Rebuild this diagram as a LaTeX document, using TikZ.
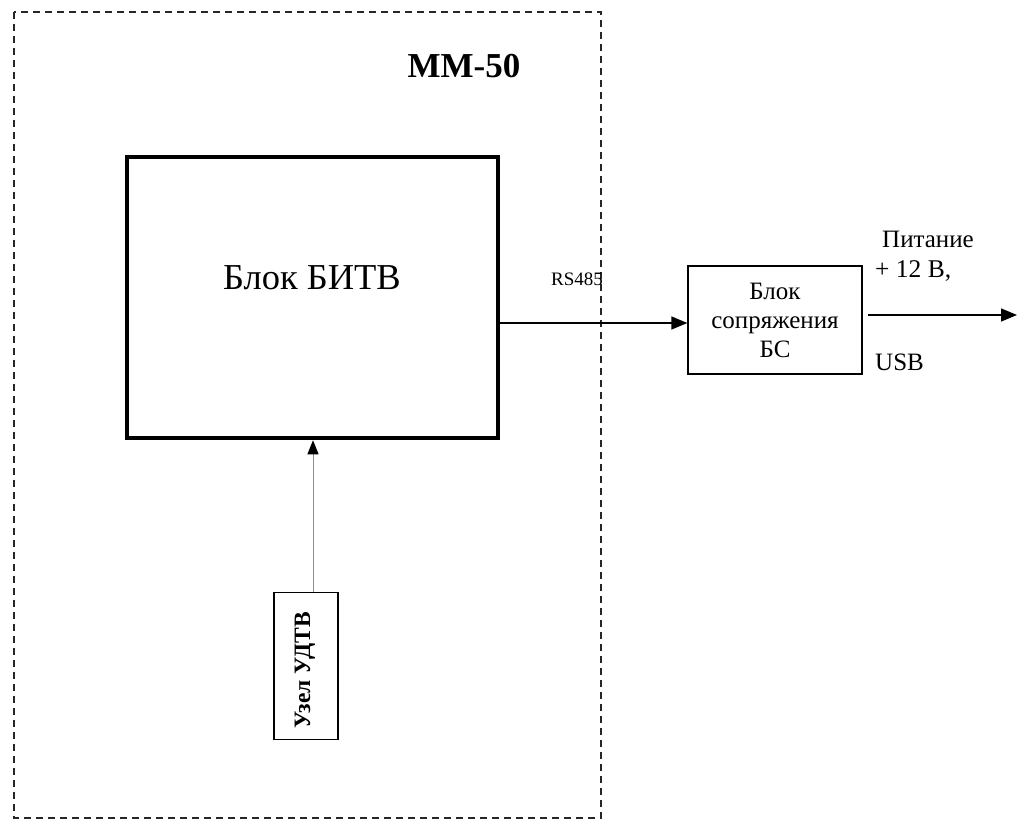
\documentclass[tikz,border=0pt]{standalone}
\usepackage{fontspec}
\setmainfont{Liberation Serif}
\usetikzlibrary{arrows.meta,calc}
\tikzset{
  frame/.style={draw=black!85, line width=1.6pt, dash pattern=on 7pt off 5pt},
  bigbox/.style={draw, line width=4.5pt, minimum width=371pt, minimum height=281pt, inner sep=0pt},
  smallbox/.style={draw, line width=1.3pt, minimum width=174pt, minimum height=108pt, inner sep=0pt, align=center, font=\fontsize{25}{29}\selectfont},
  uzelbox/.style={draw, line width=1.8pt, minimum width=64pt, minimum height=147pt, inner sep=0pt},
  conn/.style={line width=1.3pt, -{Triangle[length=16pt,width=13pt]}},
  thinconn/.style={draw=black!45, line width=1pt, -{Triangle[length=14pt,width=11pt,fill=black,color=black]}},
  lbl/.style={inner sep=0pt}
}
\begin{document}
\begin{tikzpicture}[x=1pt,y=-1pt]
\useasboundingbox (0,0) rectangle (1026,821);
\draw[frame] (14,12) rectangle (601,818);
\node[lbl, font=\fontsize{35}{40}\selectfont\bfseries] (mm) at (464,66) {ММ-50};
\node[bigbox] (bitv) at (312.5,297.5) {};
\node[lbl, font=\fontsize{36.5}{42}\selectfont] (bitvt) at (312,278) {Блок БИТВ};
\node[smallbox] (bs) at (775,320) {Блок\\сопряжения\\БС};
\node[uzelbox] (uzel) at (306,666) {};
\node[lbl, rotate=90, font=\fontsize{23.5}{28}\selectfont\bfseries] (uzelt) at ([xshift=-1pt,yshift=-4pt]uzel.center) {Узел УДТВ};
\node[lbl, anchor=base west, font=\fontsize{19}{22}\selectfont] (rs) at (551,286) {RS485};
\node[lbl, anchor=base west, font=\fontsize{25}{29}\selectfont] (pit) at (882,248) {Питание};
\node[lbl, anchor=base west, font=\fontsize{25.5}{29}\selectfont] (v12) at (875,278) {+ 12 В,};
\node[lbl, anchor=base west, font=\fontsize{25}{29}\selectfont] (usb) at (875,370) {USB};
\coordinate (out) at (1017,315);
\draw[conn] (bitv.east |- 0,323) -- (bs.west |- 0,323);
\draw[conn] ([xshift=5pt]bs.east |- out) -- (out);
\draw[thinconn] ([xshift=7pt]uzel.north) -- ([xshift=7pt]uzel.north |- bitv.south);
\end{tikzpicture}
\end{document}
